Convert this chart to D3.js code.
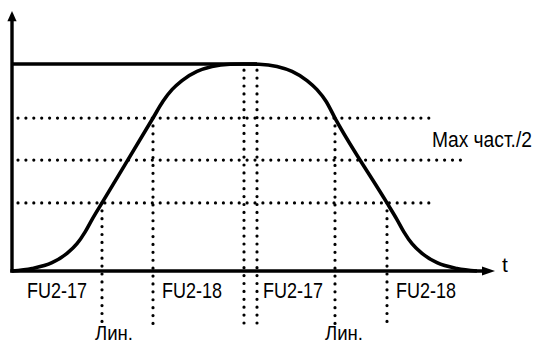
<!DOCTYPE html>
<html>
<head>
<meta charset="utf-8">
<script src="https://cdn.jsdelivr.net/npm/d3@7/dist/d3.min.js"></script>
<style>
  html, body { margin: 0; padding: 0; background: #fff; }
  svg { display: block; }
  text { font-family: "Liberation Sans", Arial, Helvetica, sans-serif; fill: #000; }
</style>
</head>
<body>
<svg id="chart" width="537" height="345"></svg>
<script>
// S-curve acceleration / deceleration profile (time, % of max frequency)
const riseTime = [0, 2.0, 4.0, 5.5, 6.5, 7.3, 8.0, 9.0, 14.1, 15.1, 16.0, 17.0, 18.5, 20.0, 21.8, 23.2];
const riseFreq = [0, 1.2, 4.0, 8.5, 13.2, 18.8, 24.85, 32.9, 73.9, 82.0, 87.6, 92.0, 96.4, 98.8, 99.9, 100];
const fallTime = [23.3, 24.7, 26.5, 28.0, 29.5, 30.5, 31.4, 32.3, 37.5, 38.5, 39.2, 40.0, 41.0, 42.5, 44.5, 46.5];
const fallFreq = [100, 99.9, 98.8, 96.4, 92.0, 87.6, 82.0, 73.9, 32.9, 24.85, 18.8, 13.2, 8.5, 4.0, 1.2, 0];

// Reference levels (dotted horizontals) and where they end
const levelFreq = [73.9, 53.6, 32.9];
const levelEnd = [42.0, 45.1, 42.0];

// Marker times (dotted verticals) and the level each one starts from
const markerTime = [9.0, 14.1, 23.2, 24.5, 32.3, 37.5];
const markerTop = [32.9, 73.9, 97.0, 97.0, 73.9, 32.9];
const markerBottom = -27;

// Text labels under the time axis
const stageLabels = ["FU2-17", "FU2-18", "FU2-17", "FU2-18"];
const stageTime = [1.5, 15.0, 25.1, 38.4];
const linLabel = "Лин.";
const linTime = [8.3, 31.3];
const halfLabel = "Max част./2";
const maxFreq = 100;

const svg = d3.select("#chart");

const x = d3.scaleLinear().domain([0, 48.3]).range([12, 495]);
const y = d3.scaleLinear().domain([0, 100]).range([271, 64]);

const dotted = g => g.attr("fill", "none").attr("stroke", "#000")
  .attr("stroke-width", 3.2).attr("stroke-linecap", "round")
  .attr("stroke-dasharray", "0,7.9");

// dotted level lines
svg.append("g").selectAll("line").data(levelFreq).join("line")
  .attr("x1", x(0.6)).attr("x2", (d, i) => x(levelEnd[i]))
  .attr("y1", d => y(d)).attr("y2", d => y(d))
  .call(dotted);

// dotted marker lines
svg.append("g").selectAll("line").data(markerTime).join("line")
  .attr("x1", d => x(d)).attr("x2", d => x(d))
  .attr("y1", (d, i) => y(markerTop[i])).attr("y2", y(markerBottom))
  .call(dotted);

// maximum-frequency line
svg.append("line")
  .attr("x1", x(0)).attr("x2", x(24.5))
  .attr("y1", y(maxFreq)).attr("y2", y(maxFreq))
  .attr("stroke", "#000").attr("stroke-width", 3.4);

// frequency profile
const pts = riseTime.map((t, i) => [t, riseFreq[i]])
  .concat(fallTime.map((t, i) => [t, fallFreq[i]]));
const line = d3.line().x(d => x(d[0])).y(d => y(d[1])).curve(d3.curveMonotoneX);
svg.append("path").datum(pts).attr("d", line)
  .attr("fill", "none").attr("stroke", "#000").attr("stroke-width", 3.6)
  .attr("stroke-linejoin", "round");

// axes with arrowheads
const axisG = svg.append("g");
axisG.append("line")
  .attr("x1", x(0)).attr("x2", x(0)).attr("y1", y(0) + 1.5).attr("y2", y(121))
  .attr("stroke", "#000").attr("stroke-width", 3.4);
axisG.append("line")
  .attr("x1", x(0) - 1.7).attr("x2", x(47.3)).attr("y1", y(0)).attr("y2", y(0))
  .attr("stroke", "#000").attr("stroke-width", 3.4);
axisG.append("path")
  .attr("d", `M${x(0)},${y(125.6)} L${x(0) + 4.6},${y(120.6)} L${x(0) - 4.6},${y(120.6)} Z`)
  .attr("fill", "#000");
axisG.append("path")
  .attr("d", `M${x(48.3)},${y(0)} L${x(47.0)},${y(0) - 4.6} L${x(47.0)},${y(0) + 4.6} Z`)
  .attr("fill", "#000");

// condensed text: horizontally squeeze a label to a given width
function narrowText(sel, px, py, size, width, str) {
  const t = sel.append("text")
    .attr("font-size", size)
    .text(str);
  const natural = t.node().getComputedTextLength();
  const k = width / natural;
  t.attr("transform", `translate(${px},${py}) scale(${k},1)`);
  return t;
}

const labelG = svg.append("g");
stageLabels.forEach((s, i) => narrowText(labelG, x(stageTime[i]), 298, 22, 60, s));
linTime.forEach(t => narrowText(labelG, x(t), 340, 21, 38, linLabel));
narrowText(labelG, 432, 147, 22, 100, halfLabel);

svg.append("text").attr("x", 502).attr("y", 272)
  .attr("font-size", 21)
  .text("t");
</script>
</body>
</html>
